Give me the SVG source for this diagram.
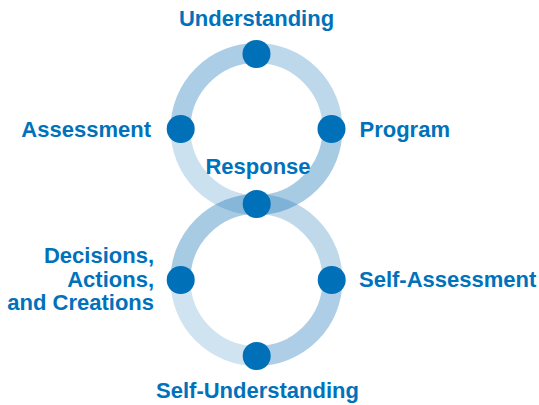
<svg xmlns="http://www.w3.org/2000/svg" width="539" height="405" viewBox="0 0 539 405">
<style>
  .arc { fill: none; stroke: #0068B0; stroke-width: 20; }
  .dot { fill: #0070B8; }
  .lbl { font-family: "Liberation Sans", Arial, sans-serif; font-weight: bold; font-size: 22px; fill: #0072BB; }
</style>
<rect width="539" height="405" fill="#ffffff"/>
<g id="connectors">
  <path class="arc" stroke-opacity="0.33" d="M180.5,129 A76,76 0 0 1 256.5,53"/>
  <path class="arc" stroke-opacity="0.26" d="M256.5,53 A76,76 0 0 1 332.5,129"/>
  <path class="arc" stroke-opacity="0.34" d="M332.5,129 A76,76 0 0 1 256.5,205"/>
  <path class="arc" stroke-opacity="0.2" d="M256.5,205 A76,76 0 0 1 180.5,129"/>
  <path class="arc" stroke-opacity="0.34" d="M180.5,280 A76,76 0 0 1 256.5,204"/>
  <path class="arc" stroke-opacity="0.25" d="M256.5,204 A76,76 0 0 1 332.5,280"/>
  <path class="arc" stroke-opacity="0.32" d="M332.5,280 A76,76 0 0 1 256.5,356"/>
  <path class="arc" stroke-opacity="0.19" d="M256.5,356 A76,76 0 0 1 180.5,280"/>
</g>
<g id="understanding">
  <circle class="dot" cx="256.5" cy="54" r="14"/>
  <text class="lbl" x="256.5" y="26" text-anchor="middle">Understanding</text>
</g>
<g id="assessment">
  <circle class="dot" cx="180.7" cy="129" r="14"/>
  <text class="lbl" x="151" y="137" text-anchor="end">Assessment</text>
</g>
<g id="program">
  <circle class="dot" cx="331.5" cy="129" r="14"/>
  <text class="lbl" x="359.5" y="137">Program</text>
</g>
<g id="response">
  <circle class="dot" cx="256.7" cy="204" r="14"/>
  <text class="lbl" x="258" y="174" text-anchor="middle">Response</text>
</g>
<g id="decisions">
  <circle class="dot" cx="180.7" cy="280" r="14"/>
  <text class="lbl" text-anchor="end"><tspan x="154" y="263">Decisions,</tspan><tspan x="154" y="286.5">Actions,</tspan><tspan x="154" y="310">and Creations</tspan></text>
</g>
<g id="self-assessment">
  <circle class="dot" cx="331.7" cy="280" r="14"/>
  <text class="lbl" x="359" y="286.5">Self-Assessment</text>
</g>
<g id="self-understanding">
  <circle class="dot" cx="256.7" cy="356" r="14"/>
  <text class="lbl" x="257.5" y="398" text-anchor="middle">Self-Understanding</text>
</g>
</svg>
